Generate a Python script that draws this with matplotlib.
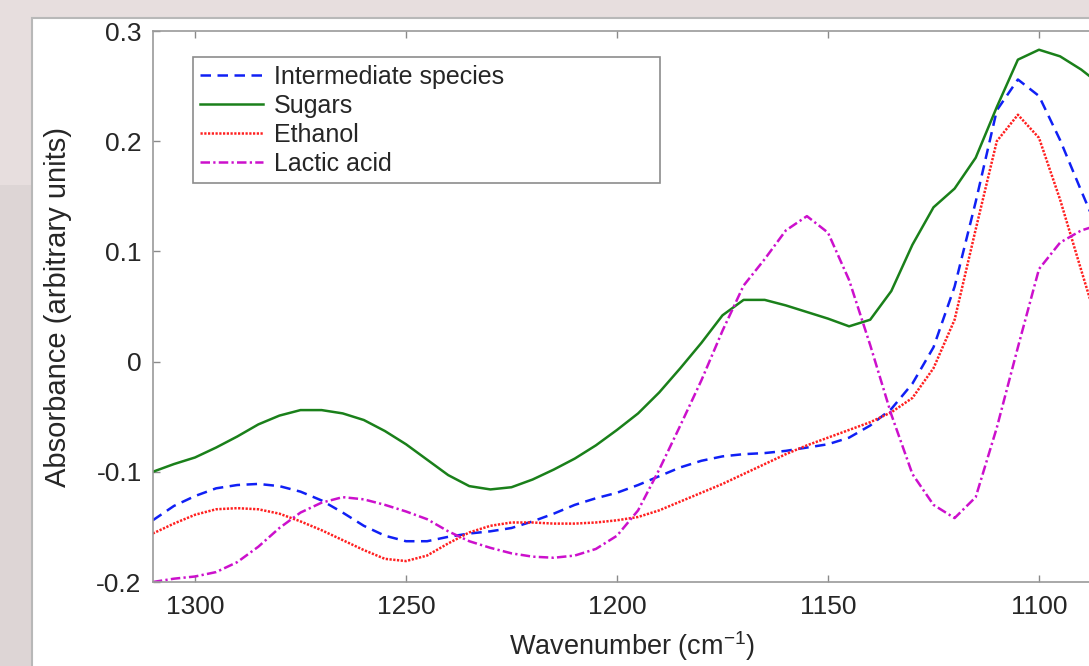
import matplotlib
matplotlib.use("Agg")
import matplotlib.pyplot as plt
from matplotlib.patches import Rectangle

plt.rcParams["font.family"] = ["Liberation Sans", "DejaVu Sans"]
plt.rcParams["mathtext.default"] = "regular"

# Spectra (absorbance, arbitrary units)
wavenumber = [1310, 1305, 1300, 1295, 1290, 1285, 1280, 1275, 1270, 1265,
              1260, 1255, 1250, 1245, 1240, 1235, 1230, 1225, 1220, 1215,
              1210, 1205, 1200, 1195, 1190, 1185, 1180, 1175, 1170, 1165,
              1160, 1155, 1150, 1145, 1140, 1135, 1130, 1125, 1120, 1115,
              1110, 1105, 1100, 1095, 1090, 1085]

intermediate = [-0.144, -0.131, -0.122, -0.115, -0.112, -0.111, -0.113, -0.118, -0.126, -0.137,
                -0.149, -0.158, -0.163, -0.163, -0.159, -0.156, -0.154, -0.151, -0.145, -0.138,
                -0.130, -0.124, -0.119, -0.112, -0.104, -0.096, -0.090, -0.086, -0.084, -0.083,
                -0.081, -0.078, -0.075, -0.069, -0.058, -0.043, -0.020, 0.013, 0.068, 0.145,
                0.228, 0.256, 0.241, 0.201, 0.155, 0.110]

sugars = [-0.100, -0.093, -0.087, -0.078, -0.068, -0.057, -0.049, -0.044, -0.044, -0.047,
          -0.053, -0.063, -0.075, -0.089, -0.103, -0.113, -0.116, -0.114, -0.107, -0.098,
          -0.088, -0.076, -0.062, -0.047, -0.028, -0.006, 0.017, 0.042, 0.056, 0.056,
          0.051, 0.045, 0.039, 0.032, 0.038, 0.064, 0.106, 0.140, 0.157, 0.185,
          0.231, 0.274, 0.283, 0.277, 0.265, 0.250]

ethanol = [-0.156, -0.147, -0.139, -0.134, -0.133, -0.134, -0.138, -0.145, -0.153, -0.162,
           -0.171, -0.179, -0.181, -0.176, -0.165, -0.155, -0.149, -0.146, -0.146, -0.147,
           -0.147, -0.146, -0.144, -0.141, -0.135, -0.127, -0.119, -0.111, -0.102, -0.093,
           -0.084, -0.076, -0.069, -0.062, -0.055, -0.046, -0.033, -0.006, 0.038, 0.120,
           0.200, 0.224, 0.203, 0.147, 0.083, 0.020]

lactic_acid = [-0.200, -0.197, -0.195, -0.191, -0.182, -0.168, -0.151, -0.137, -0.128, -0.123,
               -0.125, -0.130, -0.136, -0.143, -0.154, -0.163, -0.169, -0.174, -0.177, -0.178,
               -0.176, -0.170, -0.158, -0.135, -0.098, -0.058, -0.017, 0.028, 0.069, 0.093,
               0.119, 0.132, 0.117, 0.074, 0.015, -0.048, -0.102, -0.130, -0.142, -0.123,
               -0.060, 0.013, 0.084, 0.108, 0.119, 0.125]

xticks = [1300, 1250, 1200, 1150, 1100]
yticks = [-0.2, -0.1, 0, 0.1, 0.2, 0.3]
ytick_labels = ["-0.2", "-0.1", "0", "0.1", "0.2", "0.3"]

W, H = 1089, 666
text_color = "#262626"

fig = plt.figure(figsize=(W / 100, H / 100), dpi=100)
fig.patch.set_facecolor("#e7dede")

# slide background: darker lower-left strip and the white panel
fig.add_artist(Rectangle((0, 0), 31 / W, 1 - 185 / H, transform=fig.transFigure,
                         facecolor="#ddd5d5", edgecolor="none", zorder=0))
fig.add_artist(Rectangle((32 / W, -0.1), 1.2, 1 - 18 / H + 0.1, transform=fig.transFigure,
                         facecolor="white", edgecolor="#b8b8b8", lw=1.5, zorder=0))

# axes run past the right edge of the picture (the reference is cropped)
ax_left, ax_right = 152.8, 1123.4
ax = fig.add_axes([ax_left / W, 84 / H, (ax_right - ax_left) / W, 551 / H])

lw = 1.8
ax.plot(wavenumber, intermediate, color="#1020f5", lw=lw, linestyle=(0, (4.2, 2.6)),
        label="Intermediate species")
ax.plot(wavenumber, sugars, color="#1a801a", lw=lw, linestyle="-", label="Sugars")
ax.plot(wavenumber, ethanol, color="#ff2020", lw=lw, linestyle=(0, (0.9, 0.6)),
        label="Ethanol")
ax.plot(wavenumber, lactic_acid, color="#cc10cc", lw=lw, linestyle=(0, (3.8, 1.3, 0.9, 1.3)),
        label="Lactic acid")

ax.set_xlim(1310, 1080)
ax.set_ylim(-0.2, 0.3)
ax.set_xticks(xticks)
ax.set_xticklabels([str(t) for t in xticks])
ax.set_yticks(yticks)
ax.set_yticklabels(ytick_labels)

for side in ["top", "bottom", "left", "right"]:
    ax.spines[side].set_color("#9a9a9a")
    ax.spines[side].set_linewidth(1.2)

ax.tick_params(direction="in", top=True, right=True, length=5, width=1,
               color="#8a8a8a", labelcolor=text_color, labelsize=19)
ax.tick_params(axis="x", pad=9)
ax.tick_params(axis="y", pad=8)

# the reference crops this label at the bottom; keep it just inside the picture
ax.set_xlabel("Wavenumber (cm$^{-1}$)", fontsize=19.5, color=text_color)
ax.set_ylabel("Absorbance (arbitrary units)", fontsize=21, color=text_color)
ax.xaxis.set_label_coords(0.494, -0.086)
ax.yaxis.set_label_coords(-0.083, 0.5)

leg = ax.legend(loc="upper left", bbox_to_anchor=(0.0414, 0.5, 0.4811, 0.4528),
                mode="expand", borderaxespad=0, fontsize=18, handlelength=2.5,
                handletextpad=0.45, labelspacing=0.2, borderpad=0.3,
                fancybox=False, framealpha=1, edgecolor="#8c8c8c")
leg.get_frame().set_linewidth(1.2)
for t in leg.get_texts():
    t.set_color(text_color)

fig.savefig("out.png", dpi=100)
plt.close(fig)
